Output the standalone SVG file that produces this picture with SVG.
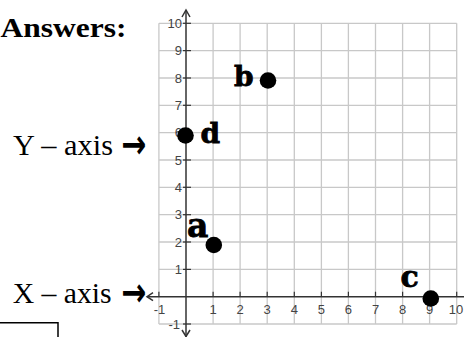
<svg xmlns="http://www.w3.org/2000/svg" width="464" height="337" viewBox="0 0 464 337">
<style>
.grid line{stroke:#c8c8c8;stroke-width:1.3}
.axis{stroke:#333;stroke-width:1.5;fill:none}
.tick{stroke:#333;stroke-width:1.2}
.tl{font-family:"Liberation Sans",Arial,sans-serif;font-size:13px;fill:#444}
.ty{text-anchor:end}
.tx{text-anchor:middle}
.lbl{font-family:"Liberation Serif","Times New Roman",serif;fill:#000}
.pt{fill:#000}
.ltr{font-family:"DejaVu Serif",serif;font-weight:bold;fill:#000;stroke:#000;stroke-width:0.8}
.arr{font-family:"DejaVu Sans",sans-serif;font-weight:bold;fill:#000}
</style>
<rect width="464" height="337" fill="#fff"/>
<g id="grid" class="grid">
<line x1="158.9" y1="23.3" x2="158.9" y2="324"/>
<line x1="213.1" y1="23.3" x2="213.1" y2="324"/>
<line x1="240.1" y1="23.3" x2="240.1" y2="324"/>
<line x1="267.2" y1="23.3" x2="267.2" y2="324"/>
<line x1="294.3" y1="23.3" x2="294.3" y2="324"/>
<line x1="321.4" y1="23.3" x2="321.4" y2="324"/>
<line x1="348.4" y1="23.3" x2="348.4" y2="324"/>
<line x1="375.5" y1="23.3" x2="375.5" y2="324"/>
<line x1="402.6" y1="23.3" x2="402.6" y2="324"/>
<line x1="429.6" y1="23.3" x2="429.6" y2="324"/>
<line x1="456.7" y1="23.3" x2="456.7" y2="324"/>
<line x1="158.9" y1="23.3" x2="456.7" y2="23.3"/>
<line x1="158.9" y1="50.6" x2="456.7" y2="50.6"/>
<line x1="158.9" y1="78" x2="456.7" y2="78"/>
<line x1="158.9" y1="105.3" x2="456.7" y2="105.3"/>
<line x1="158.9" y1="132.7" x2="456.7" y2="132.7"/>
<line x1="158.9" y1="160" x2="456.7" y2="160"/>
<line x1="158.9" y1="187.3" x2="456.7" y2="187.3"/>
<line x1="158.9" y1="214.7" x2="456.7" y2="214.7"/>
<line x1="158.9" y1="242" x2="456.7" y2="242"/>
<line x1="158.9" y1="269.4" x2="456.7" y2="269.4"/>
<line x1="158.9" y1="324" x2="456.7" y2="324"/>
</g>
<g id="axes">
<line class="axis" x1="147" y1="296.7" x2="464" y2="296.7"/>
<line class="axis" x1="186" y1="10" x2="186" y2="337"/>
<polyline class="axis" points="182,17 186,10 190,17"/>
<polyline class="axis" points="182,330 186,336.5 190,330"/>
<polyline class="axis" points="153,292.7 147,296.7 153,300.7"/>
<g class="tick">
<line x1="158.9" y1="291.7" x2="158.9" y2="296.7"/>
<line x1="213.1" y1="291.7" x2="213.1" y2="296.7"/>
<line x1="240.1" y1="291.7" x2="240.1" y2="296.7"/>
<line x1="267.2" y1="291.7" x2="267.2" y2="296.7"/>
<line x1="294.3" y1="291.7" x2="294.3" y2="296.7"/>
<line x1="321.4" y1="291.7" x2="321.4" y2="296.7"/>
<line x1="348.4" y1="291.7" x2="348.4" y2="296.7"/>
<line x1="375.5" y1="291.7" x2="375.5" y2="296.7"/>
<line x1="402.6" y1="291.7" x2="402.6" y2="296.7"/>
<line x1="429.6" y1="291.7" x2="429.6" y2="296.7"/>
<line x1="456.7" y1="291.7" x2="456.7" y2="296.7"/>
<line x1="183" y1="23.3" x2="191" y2="23.3"/>
<line x1="183" y1="50.6" x2="191" y2="50.6"/>
<line x1="183" y1="78" x2="191" y2="78"/>
<line x1="183" y1="105.3" x2="191" y2="105.3"/>
<line x1="183" y1="132.7" x2="191" y2="132.7"/>
<line x1="183" y1="160" x2="191" y2="160"/>
<line x1="183" y1="187.3" x2="191" y2="187.3"/>
<line x1="183" y1="214.7" x2="191" y2="214.7"/>
<line x1="183" y1="242" x2="191" y2="242"/>
<line x1="183" y1="269.4" x2="191" y2="269.4"/>
<line x1="183" y1="324" x2="191" y2="324"/>
</g>
</g>
<g id="tick-labels" class="tl">
<text class="ty" x="182" y="28">10</text>
<text class="ty" x="182" y="55.3">9</text>
<text class="ty" x="182" y="82.7">8</text>
<text class="ty" x="182" y="110">7</text>
<text class="ty" x="182" y="137.4">6</text>
<text class="ty" x="182" y="164.7">5</text>
<text class="ty" x="182" y="192">4</text>
<text class="ty" x="182" y="219.4">3</text>
<text class="ty" x="182" y="246.7">2</text>
<text class="ty" x="182" y="274.1">1</text>
<text class="ty" x="180" y="328.5">-1</text>
<text class="tx" x="159.5" y="313.5">-1</text>
<text class="tx" x="213.1" y="313.5">1</text>
<text class="tx" x="240.1" y="313.5">2</text>
<text class="tx" x="267.2" y="313.5">3</text>
<text class="tx" x="294.3" y="313.5">4</text>
<text class="tx" x="321.4" y="313.5">5</text>
<text class="tx" x="348.4" y="313.5">6</text>
<text class="tx" x="375.5" y="313.5">7</text>
<text class="tx" x="402.6" y="313.5">8</text>
<text class="tx" x="429.6" y="313.5">9</text>
<text class="tx" x="456" y="313.5">10</text>
</g>
<g id="point-b">
<circle class="pt" cx="268" cy="80.5" r="8.3"/>
<text class="ltr" x="234" y="85.5" font-size="28">b</text>
</g>
<g id="point-d">
<circle class="pt" cx="185.5" cy="135.5" r="8.3"/>
<text class="ltr" x="200.5" y="143" font-size="28">d</text>
</g>
<g id="point-a">
<circle class="pt" cx="213.8" cy="245" r="8.3"/>
<text class="ltr" x="187" y="236.5" font-size="33">a</text>
</g>
<g id="point-c">
<circle class="pt" cx="430.8" cy="298.5" r="8.3"/>
<text class="ltr" x="400.5" y="287" font-size="30">c</text>
</g>
<g id="text">
<text class="lbl" x="0.5" y="36.7" font-size="27" font-weight="bold" textLength="126" lengthAdjust="spacingAndGlyphs">Answers:</text>
<text class="lbl" x="13" y="155" font-size="29" textLength="100" lengthAdjust="spacingAndGlyphs">Y – axis</text>
<text class="arr" x="121.5" y="157.5" font-size="40" textLength="25" lengthAdjust="spacingAndGlyphs">→</text>
<text class="lbl" x="12.7" y="303.3" font-size="29" textLength="99" lengthAdjust="spacingAndGlyphs">X – axis</text>
<text class="arr" x="121.5" y="306" font-size="40" textLength="25" lengthAdjust="spacingAndGlyphs">→</text>
</g>
<path d="M0 322.7H58V337" fill="none" stroke="#000" stroke-width="1.5"/>
</svg>
